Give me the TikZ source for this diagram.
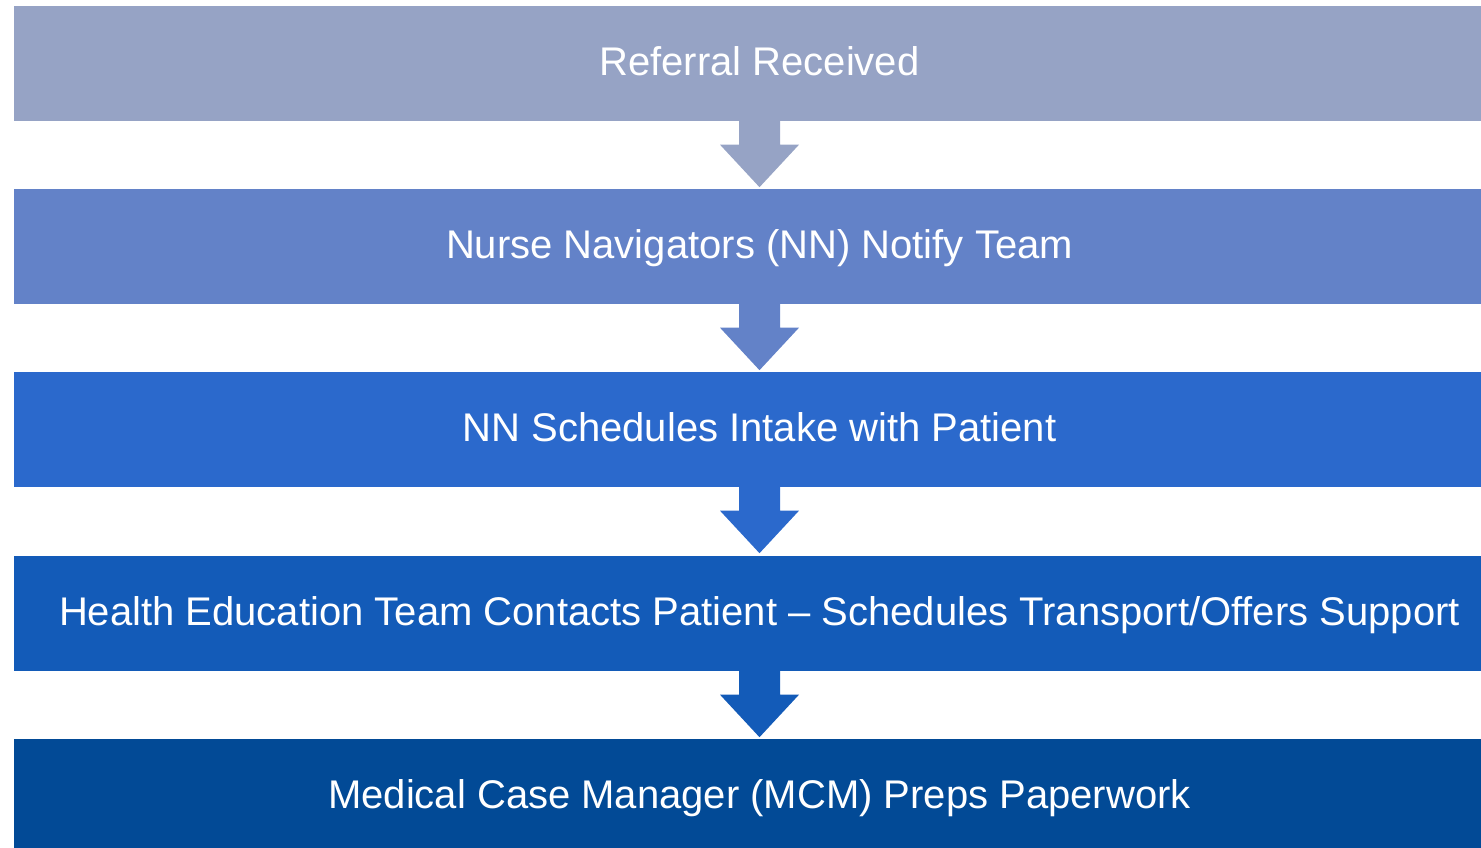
\documentclass[tikz,border=0pt]{standalone}
\usepackage{fontspec}
\setmainfont{Liberation Sans}
\usetikzlibrary{calc}
\definecolor{c1}{HTML}{96A3C5}
\definecolor{c2}{HTML}{6382C8}
\definecolor{c3}{HTML}{2B69CC}
\definecolor{c4}{HTML}{135BB8}
\definecolor{c5}{HTML}{024A96}
\tikzset{
  stage/.style={rectangle, fill=#1, draw=none, minimum width=1491pt, minimum height=115pt,
    inner sep=0pt, text=white, font=\fontsize{40}{48}\selectfont, text height=28.6pt, text depth=4pt},
  blockarrow/.style={fill=#1, draw=none}
}
\newcommand{\stagearrow}[3]{%
  \path[blockarrow=#3] ($(#1.south)+(-20.5,1)$) -- ($(#1.south)+(-20.5,-23.5)$) -- ($(#1.south)+(-39.5,-23.5)$)
    -- ($(#1.south)+(0,-66)$) -- ($(#1.south)+(39.5,-23.5)$) -- ($(#1.south)+(20.5,-23.5)$)
    -- ($(#1.south)+(20.5,1)$) -- cycle;
}
\begin{document}
\begin{tikzpicture}[x=1pt,y=1pt]
\useasboundingbox (0,0) rectangle (1481,847);
\clip (0,0) rectangle (1481,847);
\node[stage=c1] (s1) at (759.5,783.5) {Referral Received};
\node[stage=c2] (s2) at (759.5,600.5) {Nurse Navigators (NN) Notify Team};
\node[stage=c3] (s3) at (759.5,417.5) {NN Schedules Intake with Patient};
\node[stage=c4] (s4) at (759.5,233.5) {Health Education Team Contacts Patient – Schedules Transport/Offers Support};
\node[stage=c5] (s5) at (759.5,50.5) {Medical Case Manager (MCM) Preps Paperwork};
\stagearrow{s1}{s2}{c1}
\stagearrow{s2}{s3}{c2}
\stagearrow{s3}{s4}{c3}
\stagearrow{s4}{s5}{c4}
\end{tikzpicture}
\end{document}
